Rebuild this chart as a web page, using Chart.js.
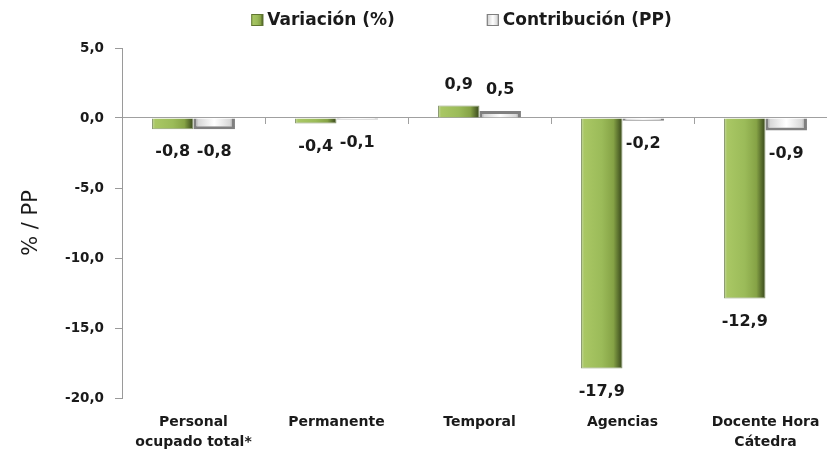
<!DOCTYPE html>
<html>
<head>
<meta charset="utf-8">
<script src="https://cdn.jsdelivr.net/npm/chart.js@4.4.1/dist/chart.umd.min.js"></script>
<style>
  html, body { margin: 0; padding: 0; background: #fff; overflow: hidden; }
  #wrap { width: 840px; height: 453px; }
</style>
</head>
<body>
<div id="wrap"><canvas id="chart" width="840" height="453"></canvas></div>
<script>
// data
const categories = [['Personal', 'ocupado total*'], 'Permanente', 'Temporal', 'Agencias', ['Docente Hora', 'Cátedra']];
const variacion = [-0.8, -0.4, 0.9, -17.9, -12.9];
const contribucion = [-0.8, -0.1, 0.5, -0.2, -0.9];
const yTicks = [5, 0, -5, -10, -15, -20];

const fontFamily = '"DejaVu Sans", sans-serif';
const textColor = '#1a1a1a';
const fmt = v => v.toFixed(1).replace('.', ',');

function barGradient(ctx, x0, x1, kind) {
  const g = ctx.createLinearGradient(x0, 0, x1, 0);
  if (kind === 0) {
    g.addColorStop(0, '#c2d69a');
    g.addColorStop(0.08, '#a9c764');
    g.addColorStop(0.5, '#9bbb59');
    g.addColorStop(0.78, '#86a346');
    g.addColorStop(0.93, '#4f6228');
    g.addColorStop(1, '#3a4a1c');
  } else {
    g.addColorStop(0, '#8c8c8c');
    g.addColorStop(0.12, '#d8d8d8');
    g.addColorStop(0.5, '#ffffff');
    g.addColorStop(0.88, '#d8d8d8');
    g.addColorStop(1, '#7a7a7a');
  }
  return g;
}

// give each bar its own shading
const barShading = {
  id: 'barShading',
  beforeDatasetsDraw(chart) {
    const ctx = chart.ctx;
    chart.data.datasets.forEach((ds, i) => {
      chart.getDatasetMeta(i).data.forEach(el => {
        const g = barGradient(ctx, el.x - el.width / 2, el.x + el.width / 2, i);
        el.options = Object.assign({}, el.options, { backgroundColor: g });
      });
    });
  }
};

// value labels and small category ticks on the zero line
const valueLabels = {
  id: 'valueLabels',
  afterDatasetsDraw(chart) {
    const ctx = chart.ctx;
    const xs = chart.scales.x, ys = chart.scales.y;
    const y0 = ys.getPixelForValue(0);
    ctx.save();
    ctx.strokeStyle = '#a0a0a0';
    ctx.lineWidth = 1;
    const step = xs.getPixelForValue(1) - xs.getPixelForValue(0);
    for (let i = 0; i < categories.length; i++) {
      const bx = Math.round(xs.getPixelForValue(i) + step / 2) + 0.5;
      ctx.beginPath();
      ctx.moveTo(bx, y0);
      ctx.lineTo(bx, y0 + 6);
      ctx.stroke();
    }
    ctx.font = 'bold 16px ' + fontFamily;
    ctx.fillStyle = textColor;
    ctx.textAlign = 'center';
    ctx.textBaseline = 'middle';
    chart.data.datasets.forEach((ds, i) => {
      chart.getDatasetMeta(i).data.forEach((el, j) => {
        const v = ds.data[j];
        const y = v >= 0 ? el.y - 21 : el.y + 23;
        ctx.fillText(fmt(v), el.x, y);
      });
    });
    ctx.restore();
  }
};

// legend on top, drawn from the dataset labels
const topLegend = {
  id: 'topLegend',
  afterDraw(chart) {
    const ctx = chart.ctx;
    const area = chart.chartArea;
    const box = 12, gap = 4, between = 92, y = 20;
    ctx.save();
    ctx.font = 'bold 17px ' + fontFamily;
    const items = chart.data.datasets.map(ds => ({ label: ds.label, w: ctx.measureText(ds.label).width }));
    const total = items.reduce((s, it) => s + box + gap + it.w, 0) + between * (items.length - 1);
    let x = (area.left + area.right) / 2 - 18 - total / 2;
    items.forEach((it, i) => {
      ctx.fillStyle = barGradient(ctx, x, x + box, i);
      ctx.fillRect(x, y - box / 2, box, box);
      ctx.strokeStyle = i === 0 ? '#5f7530' : '#7f7f7f';
      ctx.lineWidth = 1;
      ctx.strokeRect(x + 0.5, y - box / 2 + 0.5, box - 1, box - 1);
      ctx.fillStyle = textColor;
      ctx.textAlign = 'left';
      ctx.textBaseline = 'middle';
      ctx.fillText(it.label, x + box + gap, y + 1);
      x += box + gap + it.w + between;
    });
    ctx.restore();
  }
};

new Chart(document.getElementById('chart'), {
  type: 'bar',
  data: {
    labels: categories,
    datasets: [
      {
        label: 'Variación (%)',
        data: variacion,
        backgroundColor: '#9bbb59',
        borderColor: '#8a9a70',
        borderWidth: 1,
        categoryPercentage: 0.58,
        barPercentage: 1
      },
      {
        label: 'Contribución (PP)',
        data: contribucion,
        backgroundColor: '#e0e0e0',
        borderColor: '#808080',
        borderWidth: 3,
        categoryPercentage: 0.58,
        barPercentage: 1
      }
    ]
  },
  options: {
    responsive: false,
    animation: false,
    layout: { padding: { top: 48, right: 3, bottom: 0, left: 0 } },
    plugins: {
      legend: { display: false },
      tooltip: { enabled: false }
    },
    scales: {
      x: {
        grid: { display: false },
        border: { display: false },
        ticks: {
          font: { family: fontFamily, size: 14, weight: 'bold', lineHeight: 1.45 },
          color: textColor,
          maxRotation: 0,
          padding: 6
        },
        afterFit(scale) { scale.height = 55; }
      },
      y: {
        min: -20,
        max: 5,
        afterBuildTicks(scale) { scale.ticks = yTicks.map(v => ({ value: v })); },
        border: { display: true, color: '#9a9a9a' },
        grid: {
          color: c => (c.tick && c.tick.value === 0 ? '#a0a0a0' : 'rgba(0,0,0,0)'),
          tickColor: '#9a9a9a',
          tickLength: 7
        },
        ticks: {
          font: { family: fontFamily, size: 13.5, weight: 'bold' },
          color: textColor,
          padding: 11,
          callback: v => fmt(v)
        },
        title: {
          display: true,
          text: '% / PP',
          font: { family: fontFamily, size: 21 },
          color: textColor,
          padding: { top: 19, bottom: 2 }
        },
        afterFit(scale) { scale.width = 122; }
      }
    }
  },
  plugins: [barShading, valueLabels, topLegend]
});
</script>
</body>
</html>
